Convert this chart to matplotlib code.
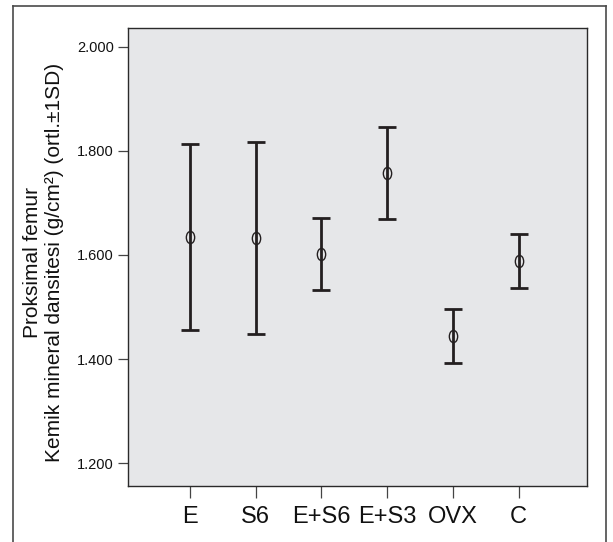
import matplotlib
matplotlib.use("Agg")
import matplotlib.pyplot as plt
from matplotlib.path import Path
import numpy as np

categories = ['E', 'S6', 'E+S6', 'E+S3', 'OVX', 'C']
means = [1.635, 1.633, 1.602, 1.758, 1.445, 1.589]
sds = [0.179, 0.185, 0.070, 0.089, 0.052, 0.052]
yticks = [1.2, 1.4, 1.6, 1.8, 2.0]
ytick_labels = ['1.200', '1.400', '1.600', '1.800', '2.000']
ylabel = 'Proksimal femur\nKemik mineral dansitesi (g/cm²) (ortl.±1SD)'

plt.rcParams['font.family'] = ['Liberation Sans', 'DejaVu Sans']

W, H = 613, 542
fig = plt.figure(figsize=(W / 100, H / 100), dpi=100)

# outer frame (open at bottom)
frame_col = '#4a4a4a'
fig.add_artist(plt.Line2D([13 / W, 13 / W], [0, 1 - 6 / H], transform=fig.transFigure, color=frame_col, lw=1.2))
fig.add_artist(plt.Line2D([606 / W, 606 / W], [0, 1 - 6 / H], transform=fig.transFigure, color=frame_col, lw=1.2))
fig.add_artist(plt.Line2D([13 / W, 606 / W], [1 - 6 / H, 1 - 6 / H], transform=fig.transFigure, color=frame_col, lw=1.2))

ax = fig.add_axes([128 / W, 1 - 486 / H, (587 - 128) / W, (486 - 28) / H])
ax.set_facecolor('#e6e7e9')
for s in ax.spines.values():
    s.set_color('#2a2a2a')
    s.set_linewidth(1.0)

x = np.arange(len(categories))
dark = '#231f20'

# elliptical open marker
circ = Path.unit_circle()
ell = Path(circ.vertices * np.array([0.68, 1.0]), circ.codes)

ax.errorbar(x, means, yerr=sds, fmt='none', ecolor=dark, elinewidth=2.0,
            capsize=6.5, capthick=2.0, zorder=2)
ax.plot(x, means, linestyle='none', marker=ell, markersize=8.8,
        markerfacecolor='none', markeredgecolor=dark, markeredgewidth=1.0, zorder=3)

ax.set_xlim(-0.944, 6.04)
ax.set_ylim(1.1558, 2.0365)
ax.set_xticks(x)
ax.set_xticklabels(categories, fontsize=17)
ax.set_yticks(yticks)
ax.set_yticklabels(ytick_labels, fontsize=10.5)
ax.tick_params(axis='x', length=8.5, width=0.9, color='#444444', pad=6, labelcolor='#111111')
ax.tick_params(axis='y', length=7, width=0.9, color='#444444', pad=3, labelcolor='#111111')

fig.text(44 / W, 1 - 262 / H, ylabel, rotation=90, ha='center', va='center',
         multialignment='center', fontsize=15, color='#111111', linespacing=1.2)

fig.savefig('out.png', dpi=100)
